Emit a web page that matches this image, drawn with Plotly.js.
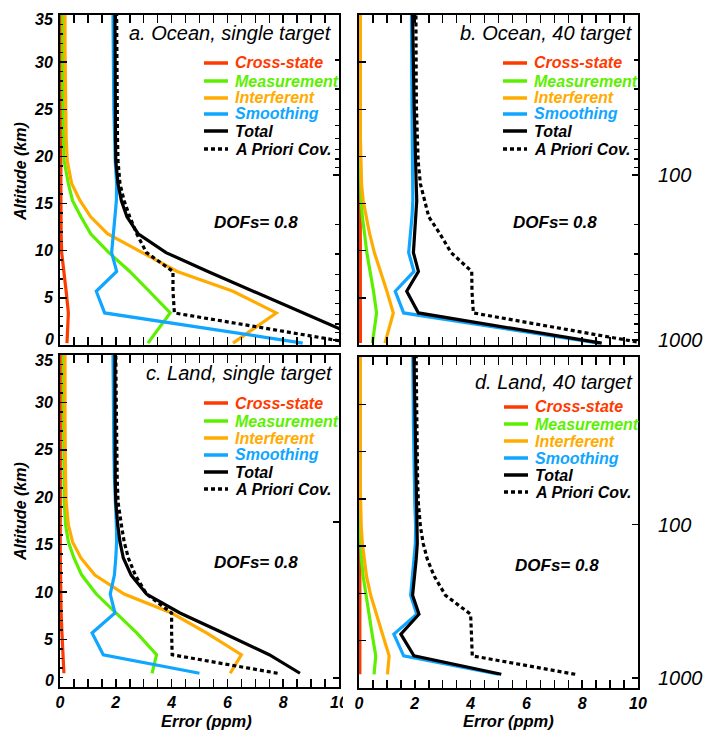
<!DOCTYPE html>
<html>
<head>
<meta charset="utf-8">
<script src="https://cdn.plot.ly/plotly-3.0.1.min.js"></script>
<style>html,body{margin:0;padding:0;background:#fff;}#chart{width:705px;height:731px;}</style>
</head>
<body>
<div id="chart"></div>
<script>
// ---------- DATA ----------
const altOcean = [0.2, 3.4, 5.7, 7.8, 9.8, 11.8, 13.6, 15.3, 17.1, 19.5, 22, 25, 28, 31.5, 35];
const altLand  = [1.45, 3.4, 5.7, 7.8, 9.8, 11.8, 13.6, 15.3, 17.1, 19.5, 22, 25, 28, 31.5, 35];

const seriesNames = ["Cross-state", "Measurement", "Interferent", "Smoothing", "Total", "A Priori Cov."];
const panelTitles = ["a. Ocean, single target", "b. Ocean, 40 target", "c. Land, single target", "d. Land, 40 target"];
const dofsLabel = "DOFs= 0.8";
const xTickVals = [0, 2, 4, 6, 8, 10];
const yTickVals = [0, 5, 10, 15, 20, 25, 30, 35];
const yTickText = ["", "5", "10", "15", "20", "25", "30", ""];
const yEndLabels = ["0", "35"];
const pTickVals = [100, 1000];
const pTickText = ["100", "1000"];
const pMinorVals = [20, 30, 40, 50, 60, 70, 80, 90, 200, 300, 400, 500, 600, 700, 800, 900];

// a. Ocean, single target
const aCross  = [0.25, 0.3, 0.22, 0.14, 0.06, 0.04, 0.03, 0.03, 0.03, 0.03, 0.03, 0.03, 0.03, 0.03, 0.03];
const aMeas   = [3.15, 3.95, 3.2, 2.5, 1.75, 1.1, 0.75, 0.45, 0.3, 0.15, 0.12, 0.1, 0.1, 0.1, 0.1];
const aInterf = [6.2, 7.75, 6.2, 4.2, 2.95, 1.7, 1.1, 0.72, 0.42, 0.26, 0.22, 0.2, 0.18, 0.18, 0.18];
const aSmooth = [8.7, 1.6, 1.3, 2.03, 1.85, 1.9, 1.97, 2.02, 2.03, 1.98, 1.95, 1.93, 1.92, 1.91, 1.9];
const aTotal  = [11.2, 8.7, 6.9, 5.3, 3.8, 2.8, 2.4, 2.2, 2.08, 2.0, 1.99, 1.98, 1.97, 1.97, 1.97];
const aPrior  = [10.5, 4.1, 4.05, 4.05, 3.1, 2.75, 2.5, 2.3, 2.15, 2.08, 2.06, 2.05, 2.04, 2.03, 2.03];

// b. Ocean, 40 target
const bCross  = [0.05, 0.05, 0.04, 0.04, 0.04, 0.04, 0.04, 0.04, 0.04, 0.04, 0.04, 0.04, 0.04, 0.04, 0.04];
const bMeas   = [0.48, 0.63, 0.52, 0.4, 0.28, 0.2, 0.12, 0.08, 0.06, 0.05, 0.04, 0.04, 0.04, 0.04, 0.04];
const bInterf = [0.93, 1.23, 1.0, 0.78, 0.55, 0.38, 0.25, 0.15, 0.09, 0.06, 0.05, 0.05, 0.05, 0.05, 0.05];
const bSmooth = [8.6, 1.6, 1.3, 1.97, 1.78, 1.85, 1.9, 1.93, 1.93, 1.92, 1.91, 1.9, 1.9, 1.89, 1.88];
const bTotal  = [8.7, 2.13, 1.71, 2.13, 1.95, 2.0, 2.05, 2.07, 2.05, 2.02, 2.0, 1.98, 1.96, 1.94, 1.92];
const bPrior  = [10.2, 4.1, 4.05, 4.04, 3.3, 2.9, 2.5, 2.35, 2.2, 2.12, 2.08, 2.06, 2.05, 2.04, 2.04];

// c. Land, single target
const cCross  = [0.14, 0.1, 0.07, 0.04, 0.02, 0.01, 0.01, 0.01, 0.01, 0.01, 0.01, 0.01, 0.01, 0.01, 0.01];
const cMeas   = [3.3, 3.46, 2.75, 2.0, 1.3, 0.78, 0.5, 0.3, 0.2, 0.15, 0.14, 0.12, 0.12, 0.12, 0.12];
const cInterf = [6.1, 6.5, 5.25, 4.0, 2.3, 1.25, 0.75, 0.45, 0.3, 0.22, 0.2, 0.18, 0.18, 0.18, 0.18];
const cSmooth = [5.0, 1.55, 1.15, 1.97, 1.8, 1.95, 2.0, 2.03, 2.02, 1.98, 1.95, 1.93, 1.92, 1.91, 1.9];
const cTotal  = [8.6, 7.5, 5.85, 4.3, 3.1, 2.55, 2.27, 2.15, 2.07, 2.0, 1.98, 1.97, 1.97, 1.97, 1.97];
const cPrior  = [7.8, 4.02, 4.0, 4.0, 3.1, 2.7, 2.45, 2.3, 2.2, 2.08, 2.05, 2.03, 2.02, 2.01, 2.0];

// d. Land, 40 target
const dCross  = [0.03, 0.03, 0.03, 0.03, 0.03, 0.03, 0.03, 0.03, 0.03, 0.03, 0.03, 0.03, 0.03, 0.03, 0.03];
const dMeas   = [0.54, 0.6, 0.47, 0.36, 0.24, 0.15, 0.09, 0.06, 0.04, 0.03, 0.03, 0.03, 0.03, 0.03, 0.03];
const dInterf = [1.02, 1.08, 0.84, 0.63, 0.42, 0.27, 0.18, 0.12, 0.08, 0.05, 0.04, 0.04, 0.04, 0.04, 0.04];
const dSmooth = [5.0, 1.6, 1.25, 2.07, 1.85, 1.9, 1.97, 2.02, 2.03, 2.0, 1.98, 1.96, 1.95, 1.94, 1.93];
const dTotal  = [5.1, 1.97, 1.5, 2.15, 1.92, 2.0, 2.05, 2.09, 2.08, 2.05, 2.03, 2.01, 2.0, 1.98, 1.97];
const dPrior  = [7.75, 4.06, 4.03, 4.0, 3.1, 2.7, 2.45, 2.3, 2.2, 2.13, 2.1, 2.08, 2.07, 2.06, 2.05];

// ---------- STYLE ----------
const W = 705, H = 731;
const FONT = "Liberation Sans, Arial, Helvetica, sans-serif";
const colors = ["#ff3a00", "#5cf000", "#ffab00", "#10a6ff", "#000000", "#000000"];
const dashes = ["solid", "solid", "solid", "solid", "solid", "4px,3px"];
const px = x => x / W;
const py = y => 1 - y / H;
const tickFont = {family: FONT, size: 16, weight: "bold", style: "italic", color: "#000"};

const panels = [
  {alt: altOcean, s: [aCross, aMeas, aInterf, aSmooth, aTotal, aPrior], xa: "x",  ya: "y",
   xl: 60, xr: 339, yt: 15, yb: 345, pBot: 1072, pTop: 10.7, pLabels: false, minorP: true, minorY: true,
   leg: {x: 204, rows: [63, 81, 98, 114, 131, 149]}, title: {x: 334, y: 33}, dofs: {x: 256, y: 222},
   ends: [340, 19]},
  {alt: altOcean, s: [bCross, bMeas, bInterf, bSmooth, bTotal, bPrior], xa: "x2", ya: "y2",
   xl: 359, xr: 638, yt: 15, yb: 345, pBot: 1072, pTop: 10.7, pLabels: true, minorP: true, minorY: false,
   leg: {x: 503, rows: [63, 81, 98, 114, 131, 149]}, title: {x: 635, y: 33}, dofs: {x: 555, y: 222}},
  {alt: altLand, s: [cCross, cMeas, cInterf, cSmooth, cTotal, cPrior], xa: "x3", ya: "y3",
   xl: 60, xr: 339, yt: 355, yb: 687, pBot: 1142, pTop: 8.5, pLabels: false, minorP: false, minorY: true,
   leg: {x: 204, rows: [403, 421, 438, 455, 472, 489]}, title: {x: 335, y: 373}, dofs: {x: 256, y: 562},
   ends: [680, 360]},
  {alt: altLand, s: [dCross, dMeas, dInterf, dSmooth, dTotal, dPrior], xa: "x4", ya: "y4",
   xl: 359, xr: 638, yt: 357, yb: 688, pBot: 1162, pTop: 8.1, pLabels: true, minorP: false, minorY: false,
   leg: {x: 504, rows: [407, 424, 441, 458, 475, 492]}, title: {x: 635, y: 382}, dofs: {x: 557, y: 565}}
];

const traces = [];
const layout = {
  width: W, height: H, margin: {l: 0, r: 0, t: 0, b: 0},
  paper_bgcolor: "#fff", plot_bgcolor: "#fff", showlegend: false,
  font: {family: FONT, color: "#000"},
  annotations: [], shapes: []
};

panels.forEach((p, i) => {
  const n = i + 1;
  const xKey = n === 1 ? "xaxis" : "xaxis" + n;
  const yKey = n === 1 ? "yaxis" : "yaxis" + n;
  const rKey = "yaxis" + (n + 4);
  p.s.forEach((vals, k) => {
    traces.push({
      type: "scatter", mode: "lines", x: vals, y: p.alt, xaxis: p.xa, yaxis: p.ya,
      name: seriesNames[k], hoverinfo: "skip",
      line: {color: colors[k], width: 3.2, dash: dashes[k]}
    });
  });
  // empty trace that registers the pressure (right) axis
  traces.push({type: "scatter", mode: "lines", x: [], y: [], xaxis: p.xa, yaxis: "y" + (n + 4), hoverinfo: "skip", showlegend: false});

  const bottomRow = i >= 2;
  layout[xKey] = {
    domain: [px(p.xl), px(p.xr)], anchor: p.ya, range: [0, 10],
    tickmode: "array", tickvals: xTickVals, ticks: "inside", ticklen: 8, tickwidth: 1.5, tickcolor: "#000",
    minor: {dtick: 0.5, tick0: 0, ticks: "inside", ticklen: 4, tickwidth: 1.5, tickcolor: "#000"},
    mirror: "allticks", showline: true, linewidth: 2, linecolor: "#000",
    showgrid: false, zeroline: false, showticklabels: bottomRow,
    tickfont: tickFont, ticklabelstandoff: 0, fixedrange: true
  };
  layout[yKey] = {
    domain: [py(p.yb), py(p.yt)], anchor: p.xa, range: [0, 35],
    tickmode: "array", tickvals: yTickVals, ticktext: yTickText,
    ticks: "inside", ticklen: 7, tickwidth: 1.5, tickcolor: "#000",
    minor: p.minorY ? {dtick: 1, tick0: 0, ticks: "inside", ticklen: 3, tickwidth: 1.5, tickcolor: "#000"} : {ticks: ""},
    mirror: true, showline: true, linewidth: 2, linecolor: "#000",
    showgrid: false, zeroline: false, showticklabels: (i === 0 || i === 2),
    tickfont: tickFont, ticklabelstandoff: 2, fixedrange: true
  };
  layout[rKey] = {
    overlaying: p.ya, anchor: p.xa, side: "right", type: "log",
    range: [Math.log10(p.pBot), Math.log10(p.pTop)],
    tickmode: "array", tickvals: pTickVals, ticktext: pTickText,
    ticks: "inside", ticklen: 6, tickwidth: 1.5, tickcolor: "#000",
    minor: p.minorP ? {tickmode: "array", tickvals: pMinorVals, ticks: "inside", ticklen: 4, tickwidth: 1.5, tickcolor: "#000"} : {ticks: ""},
    showline: false, showgrid: false, zeroline: false, showticklabels: p.pLabels,
    tickfont: {family: FONT, size: 20, style: "italic", color: "#000"},
    ticklabelstandoff: 19, fixedrange: true
  };

  // end labels of the altitude axis (shifted inward as in the original)
  if (p.ends) {
    p.ends.forEach((yy, k) => layout.annotations.push({
      xref: "paper", yref: "paper", x: px(56), y: py(yy), xanchor: "right", yanchor: "middle",
      text: yEndLabels[k], showarrow: false, font: tickFont
    }));
  }

  // panel title
  layout.annotations.push({
    xref: "paper", yref: "paper", x: px(p.title.x), y: py(p.title.y), xanchor: "right", yanchor: "middle",
    text: panelTitles[i], showarrow: false,
    font: {family: FONT, size: 20, style: "italic", color: "#000"}
  });
  // DOFs
  layout.annotations.push({
    xref: "paper", yref: "paper", x: px(p.dofs.x), y: py(p.dofs.y), xanchor: "center", yanchor: "middle",
    text: dofsLabel, showarrow: false,
    font: {family: FONT, size: 17, weight: "bold", style: "italic", color: "#000"}
  });
  // legend
  p.leg.rows.forEach((ry, k) => {
    layout.shapes.push({
      type: "line", xref: "paper", yref: "paper",
      x0: px(p.leg.x), x1: px(p.leg.x + 24), y0: py(ry), y1: py(ry),
      line: {color: colors[k], width: 3.5, dash: dashes[k]}
    });
    layout.annotations.push({
      xref: "paper", yref: "paper", x: px(p.leg.x + 29), y: py(ry), xanchor: "left", yanchor: "middle",
      text: seriesNames[k], showarrow: false,
      font: {family: FONT, size: 16, weight: "bold", style: "italic", color: colors[k]}
    });
  });
});

// axis titles
[172, 512].forEach(yc => layout.annotations.push({
  xref: "paper", yref: "paper", x: px(20), y: py(yc), xanchor: "center", yanchor: "middle",
  text: "Altitude (km)", textangle: -90, showarrow: false,
  font: {family: FONT, size: 16, weight: "bold", style: "italic", color: "#000"}
}));
[207, 508].forEach(xc => layout.annotations.push({
  xref: "paper", yref: "paper", x: px(xc), y: py(721), xanchor: "center", yanchor: "middle",
  text: "Error (ppm)", showarrow: false,
  font: {family: FONT, size: 16.5, weight: "bold", style: "italic", color: "#000"}
}));

// mask covering the part of panel c's "10" label hidden behind panel d
layout.shapes.push({
  type: "rect", xref: "paper", yref: "paper", layer: "above",
  x0: px(343), x1: px(355), y0: py(712), y1: py(692),
  fillcolor: "#fff", line: {width: 0}
});

Plotly.newPlot("chart", traces, layout, {staticPlot: true, displayModeBar: false});
</script>
</body>
</html>
